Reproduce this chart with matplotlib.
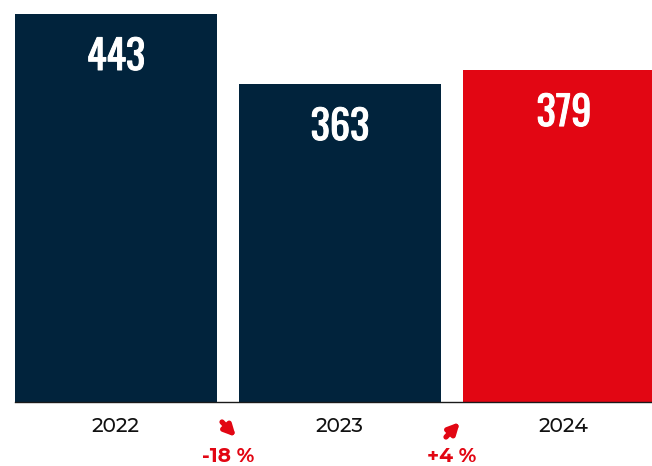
import matplotlib
matplotlib.use("Agg")
import matplotlib.pyplot as plt
import matplotlib.patheffects as pe
from matplotlib.transforms import offset_copy

years = ["2022", "2023", "2024"]
values = [443, 363, 379]
bar_colors = ["#01233c", "#01233c", "#e20613"]
changes = ["-18 %", "+4 %"]
change_up = [False, True]

RED = "#e20613"
LABEL_FONT = ["Montserrat Alternates", "DejaVu Sans"]

fig = plt.figure(figsize=(6.52, 4.66), dpi=100)
ax = fig.add_axes([0, 64 / 466, 1, 402 / 466])

x = list(range(len(years)))
ax.bar(x, values, width=0.9, color=bar_colors, zorder=2)
ax.set_xlim(-0.518, 2.393)
ax.set_ylim(0, 459)
ax.axis("off")

# baseline
ax.plot([-0.45, 2.6], [0, 0], color="#1a1a1a", lw=1.0, zorder=3, clip_on=False)

# value labels inside bars
for xi, v in zip(x, values):
    ax.annotate(str(v), xy=(xi, v), xytext=(0, -43), textcoords="offset pixels",
                ha="center", va="center", color="white", fontsize=29,
                fontfamily=["Oswald", "DejaVu Sans"], zorder=4,
                path_effects=[pe.withStroke(linewidth=0.7, foreground="white")])

# year labels under the axis
for xi, y in zip(x, years):
    ax.annotate(y, xy=(xi, 0), xytext=(0, -25), textcoords="offset pixels",
                ha="center", va="center", color="#111111", fontsize=14.5,
                fontfamily=LABEL_FONT, fontweight=500, annotation_clip=False)

# change indicators between bars
for i, (txt, up) in enumerate(zip(changes, change_up)):
    xm = i + 0.5
    if up:
        start = offset_copy(ax.transData, fig=fig, x=-6, y=-35, units="dots")
        end = offset_copy(ax.transData, fig=fig, x=8, y=-20, units="dots")
    else:
        start = offset_copy(ax.transData, fig=fig, x=-6, y=-20, units="dots")
        end = offset_copy(ax.transData, fig=fig, x=8, y=-35, units="dots")
    ax.annotate("", xy=(xm, 0), xycoords=end, xytext=(xm, 0), textcoords=start,
                arrowprops=dict(arrowstyle="-|>", color=RED, lw=3.8,
                                mutation_scale=16, shrinkA=0, shrinkB=0),
                annotation_clip=False)
    ax.annotate(txt, xy=(xm, 0), xytext=(0, -55), textcoords="offset pixels",
                ha="center", va="center", color=RED, fontsize=14.5,
                fontweight="bold", fontfamily=LABEL_FONT, annotation_clip=False)

fig.savefig("out.png", dpi=100, facecolor="white")
